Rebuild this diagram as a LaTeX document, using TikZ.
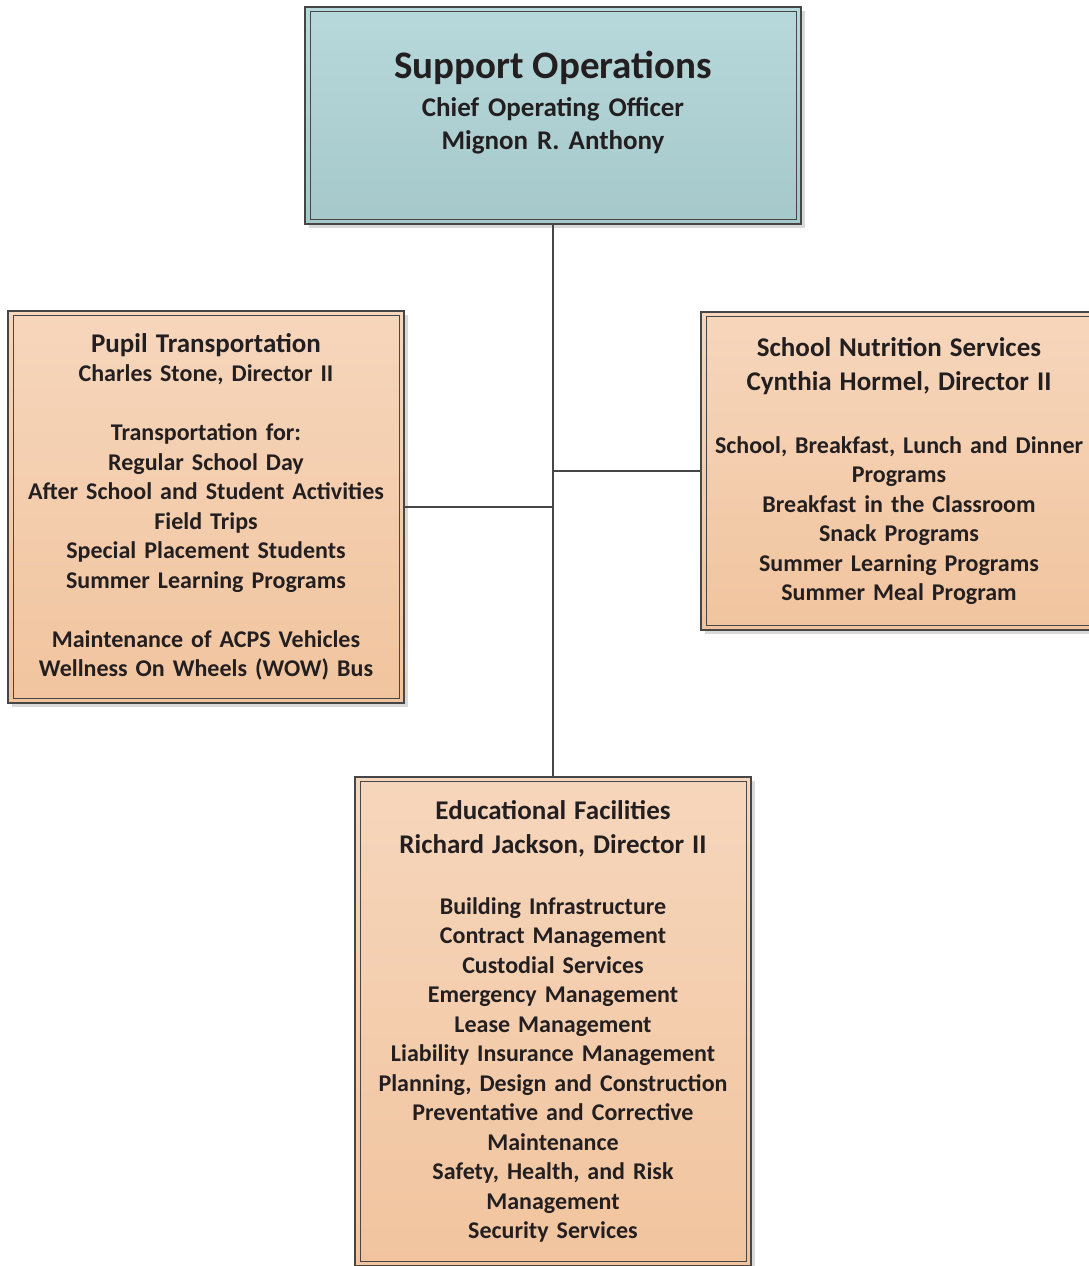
\documentclass[tikz,border=0pt]{standalone}
\usepackage{fontspec}
\setmainfont{Carlito}
\usetikzlibrary{shadows}

\definecolor{opstop}{RGB}{184,217,219}
\definecolor{opsbot}{RGB}{165,200,202}
\definecolor{unittop}{RGB}{246,214,188}
\definecolor{unitbot}{RGB}{241,196,158}
\definecolor{ink}{RGB}{35,31,32}
\definecolor{rule}{RGB}{70,70,70}

\newcommand{\boxhead}[1]{{\fontsize{27}{34}\selectfont #1}}

\tikzset{
  orgbox/.style={draw=rule, line width=1.2pt, text=ink, align=center,
    inner sep=0pt, text width=392pt, minimum width=396pt,
    font=\bfseries\fontsize{24}{29.5}\selectfont,
    drop shadow={shadow xshift=4pt, shadow yshift=-4pt, fill=black!15, opacity=1}},
  opsbox/.style={orgbox, top color=opstop, bottom color=opsbot},
  unitbox/.style={orgbox, top color=unittop, bottom color=unitbot},
  inframe/.style={draw=rule, line width=0.8pt},
  link/.style={draw=rule, line width=1.8pt}
}

\begin{document}
\begin{tikzpicture}[x=1pt,y=1pt]
  \useasboundingbox (0,0) rectangle (1089,1266);

  % Define boxes
  \node[opsbox, minimum width=496pt, text width=480pt, minimum height=217pt,
        font=\bfseries\fontsize{27}{33}\selectfont] (ops) at (553,1150.5)
    {{\fontsize{39}{38}\selectfont Support Operations}\\[5pt]
     Chief Operating Officer\\
     Mignon R. Anthony\\[-3pt]\mbox{}};
  \node[unitbox, minimum height=392pt] (pupil) at (206,759)
    {\boxhead{Pupil Transportation}\\
     Charles Stone, Director II\\[29.5pt]
     Transportation for:\\
     Regular School Day\\
     After School and Student Activities\\
     Field Trips\\
     Special Placement Students\\
     Summer Learning Programs\\[29.5pt]
     Maintenance of ACPS Vehicles\\
     Wellness On Wheels (WOW) Bus};
  \node[unitbox, minimum height=318pt] (food) at (899,795)
    {\boxhead{School Nutrition Services}\\[4.5pt]
     \boxhead{Cynthia Hormel, Director II}\\[33.5pt]
     School, Breakfast, Lunch and Dinner\\
     Programs\\
     Breakfast in the Classroom\\
     Snack Programs\\
     Summer Learning Programs\\
     Summer Meal Program};
  \node[unitbox, minimum height=489pt] (plant) at (553,244.5)
    {\boxhead{Educational Facilities}\\[4.5pt]
     \boxhead{Richard Jackson, Director II}\\[31.5pt]
     Building Infrastructure\\
     Contract Management\\
     Custodial Services\\
     Emergency Management\\
     Lease Management\\
     Liability Insurance Management\\
     Planning, Design and Construction\\
     Preventative and Corrective\\
     Maintenance\\
     Safety, Health, and Risk\\
     Management\\
     Security Services};

  % Inner frames
  \foreach \b in {ops,pupil,food,plant}
    \draw[inframe] ([shift={(5.5,-5.5)}]\b.north west) rectangle ([shift={(-5.5,5.5)}]\b.south east);

  % Draw links
  \draw[link] (ops.south) -- (plant.north);
  \draw[link] (pupil.east) -- (pupil.east -| ops.south);
  \draw[link] (food.west) -- (food.west -| ops.south);
\end{tikzpicture}
\end{document}
